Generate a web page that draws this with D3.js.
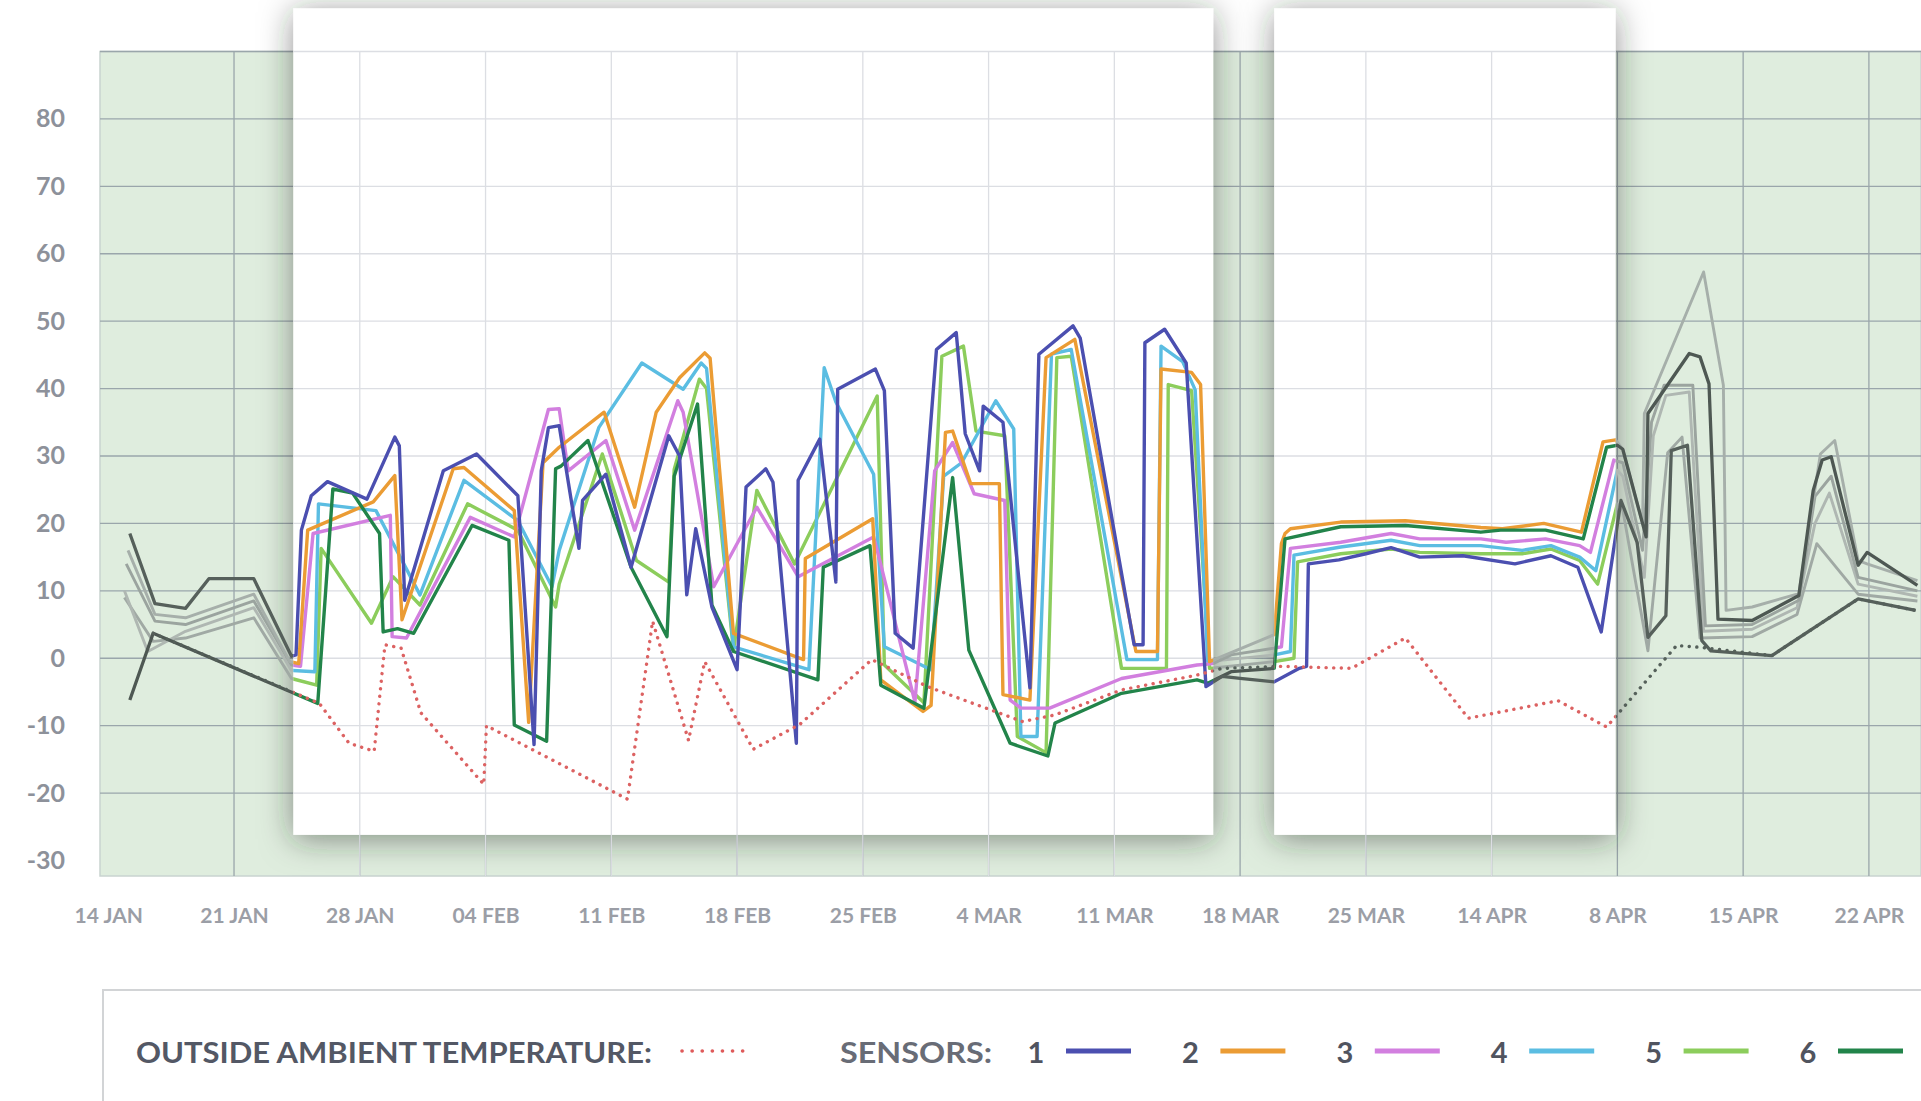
<!DOCTYPE html>
<html>
<head>
<meta charset="utf-8">
<script src="https://cdn.jsdelivr.net/npm/d3@7"></script>
<style>
  html, body { margin: 0; padding: 0; background: #fff; }
  svg { display: block; }
  text { font-family: Lato, "Open Sans", sans-serif; }
</style>
</head>
<body>
<div id="chart"></div>
<script>
// x values are days after 14 JAN, y values are degrees
var weekLabels = ["14 JAN", "21 JAN", "28 JAN", "04 FEB", "11 FEB", "18 FEB", "25 FEB", "4 MAR",
                  "11 MAR", "18 MAR", "25 MAR", "14 APR", "8 APR", "15 APR", "22 APR"];
var yTicks = [80, 70, 60, 50, 40, 30, 20, 10, 0, -10, -20, -30];
var highlightPeriods = [[10.3, 61.5], [64.9, 83.9]];
var highlightRange = [-26.2, 96.4];
var sensorNames = ["1", "2", "3", "4", "5", "6"];

var ambient = [[2.5,3.7],[11.75,-6.7],[13.4,-12.6],[14.8,-13.8],[15.4,2],[16.3,1.5],[17.4,-8.1],
  [20.9,-18.7],[21.05,-10],[28.9,-20.9],[30.3,5.5],[32.3,-12.2],[33.2,-0.5],[35.9,-13.5],
  [38.5,-9.8],[42.5,-0.2],[45.6,-4.2],[46.6,-5.2],[50.9,-9.4],[52.7,-8.4],[56.4,-4.7],
  [60.6,-2.5],[62,-1.5],[65.3,-1.2],[69.2,-1.5],[72.2,3],[75.7,-8.9],[80.7,-6.3],[83.4,-10.2],
  [87.3,1.9],[88.7,1.6],[92.6,0.4],[97.4,8.8],[100.6,7.1]];

var sensor1 = [[1.2,18.5],[2.6,8.1],[4.3,7.4],[5.6,11.8],[8.1,11.8],[10.2,0.3],[10.45,0.5],
  [10.75,19],[11.3,24.1],[12.2,26.2],[14.4,23.6],[15.95,32.8],[16.2,31.5],[16.5,8.6],[18.65,27.8],
  [20.5,30.3],[22.8,24.1],[23.7,-12.8],[24.1,27.8],[24.5,34.2],[25.1,34.5],[26.2,16.3],[26.4,23.4],
  [27.7,27.3],[29.1,13.5],[31.2,33],[31.8,30],[32.2,9.4],[32.7,19.2],[33.6,7.6],[35,-1.7],
  [35.5,25.4],[36.6,28.1],[37,26.1],[38.3,-12.6],[38.4,26.4],[39.6,32.5],[40.5,11.3],[40.6,39.9],
  [42.7,42.9],[43.2,39.7],[43.8,3.7],[44.8,1.5],[46.1,45.8],[47.2,48.3],[47.7,33.3],[48.5,27.8],
  [48.7,37.4],[49.8,35],[51.3,-4.4],[51.8,45.1],[53.7,49.3],[54.1,47.5],[57.1,2],[57.6,2],
  [57.7,46.8],[58.8,48.8],[60,43.8],[61.1,-4.2],[62,-2.7],[63,-3],[64.9,-3.5],[66.3,-1.5],
  [66.7,-1.2],[66.8,14],[68.5,14.6],[70,15.5],[71.4,16.4],[73,15],[75.4,15.2],[78.3,14],
  [80.3,15.2],[81.8,13.5],[83.1,3.9],[84.2,23.4],[85.1,17.2],[85.7,3.1],[86.7,6.3],[87,30.8],
  [87.9,31.6],[88.7,2.6],[89.2,1.1],[92.6,0.4],[97.4,8.8],[100.6,7.1]];

var sensor2 = [[1.1,16],[2.6,6.5],[4.3,6],[8.1,9.5],[10.1,-0.5],[10.6,-0.8],[11.1,19],[14.75,23.2],
  [15.95,27.1],[16.35,5.7],[19.2,28.1],[19.8,28.3],[22.6,21.9],[23.4,-9.5],[24.2,29],[25.1,31.3],
  [27.6,36.5],[29.3,22.4],[30.5,36.5],[31.8,41.6],[33.2,45.3],[33.5,44.5],[34.8,3.7],[38.7,-0.2],
  [38.8,14.8],[42.55,20.7],[43,-3.2],[45.35,-7.9],[45.8,-7],[46.6,33.5],[47,33.7],[48,25.9],
  [49.6,25.9],[49.8,-5.4],[51.3,-6.2],[52.2,44.6],[53.8,47.3],[57.2,1],[58.4,1],[58.6,42.9],
  [60.3,42.4],[60.8,40.6],[61.3,-0.5],[64.9,3.5],[65.3,17],[65.5,18.5],[65.8,19.2],[68.6,20.2],
  [72.2,20.4],[76.4,19.4],[77.6,19.2],[79.9,20],[82,18.7],[83.2,32.1],[83.9,32.4],[84.3,31],
  [85.4,20],[85.5,36.3],[88.8,57.3],[89.9,40.5],[90.05,7.1],[91.5,7.6],[94.1,9.6],[95.3,30.3],
  [96.1,32.3],[97.4,14.5],[97.9,14],[100.7,11.5]];

var sensor3 = [[1.0,14],[2.6,5.5],[4.3,5],[8.1,8.5],[10.2,-1],[10.7,-1.2],[11.4,18.5],[15.7,21.2],
  [15.8,3.2],[16.6,3.0],[20.15,20.9],[22.6,18],[24.5,36.9],[25.1,37],[25.6,27.8],[27.7,32.3],
  [29.3,19],[31.7,38.2],[32,36.5],[33.7,10.6],[36.1,22.4],[38.4,12.1],[42.6,18],[42.9,15],
  [44.9,-6.5],[46,27.8],[47,32],[48.2,24.4],[49.9,23.4],[50.2,-6.2],[50.8,-7.4],[52.4,-7.4],
  [56.4,-3],[60.6,-1],[61.5,-0.8],[62.5,0.5],[64.9,1.5],[65.3,1.7],[65.8,16.3],[68.6,17.2],
  [71.4,18.5],[73,17.7],[76.4,17.7],[77.8,17.2],[80,17.7],[81.9,16.7],[82.5,15.7],[83.8,29.4],
  [84.3,29],[85.4,16],[85.9,35],[86.6,40.5],[88.2,40.5],[88.9,4.8],[91.5,5],[94.1,8.6],[95,24],
  [95.9,27],[97.4,12],[100.7,10]];

var sensor4 = [[0.9,10],[2.2,1],[4.3,4],[8.1,7.5],[10.2,-1.8],[11.5,-2],[11.7,22.9],[14.9,21.9],
  [17.35,9.4],[19.8,26.4],[22.8,20.4],[24.7,10.6],[25.1,16],[27.3,34.2],[29.7,43.8],[32,39.9],
  [33,43.8],[33.3,43],[34.8,1.7],[39,-1.7],[39.85,43.1],[40.5,38],[42.6,27.3],[43.2,1.7],
  [45.8,-1.7],[46.5,27],[47.5,29],[49.4,38.2],[50.4,34],[50.8,-11.6],[51.7,-11.6],[52.5,45.1],
  [53.6,45.8],[56.7,-0.2],[58.4,-0.2],[58.6,46.3],[59.8,44],[60.5,39.8],[61.2,-0.5],[64.9,0.5],
  [65.8,1],[66,15.3],[68.6,16.5],[71.4,17.5],[73,16.7],[76.4,16.7],[78.7,16],[80.3,16.7],
  [81.9,15],[82.8,13],[84,27.9],[84.3,27],[85.5,12],[86,33],[86.7,39],[88,39.5],[88.8,4],
  [91.5,4.3],[94,7.5],[95,20],[95.8,24.5],[97.4,11],[100.7,9.2]];

var sensor5 = [[0.9,9],[2.5,2.5],[4.3,3],[8.1,6],[10.2,-3],[11.6,-4],[11.85,16.3],[14.65,5.2],
  [15.85,12.1],[17.35,7.9],[20,22.9],[22.8,19],[24.9,7.6],[25.1,11],[27.5,30.3],[29.4,14.5],
  [31.2,11.3],[31.5,28],[32.9,41.4],[33.3,40],[34.8,1.2],[36.1,24.9],[38.2,14],[42.8,38.9],
  [43.2,-1],[45.4,-6.6],[46.4,44.8],[47.6,46.3],[48.3,33.7],[49.9,33],[50.6,-11.6],[52.2,-14],
  [52.8,44.6],[53.6,44.8],[56.4,-1.5],[58.9,-1.5],[59,40.6],[60.3,39.7],[61.3,-1.5],[64.9,-0.5],
  [66,0],[66.2,14.3],[68.6,15.5],[71.4,16.2],[73,15.7],[76.4,15.5],[78.7,15.5],[80.3,16.2],
  [81.9,14.5],[82.9,11],[84,22.9],[84.3,22],[85.7,1.1],[86.8,30.5],[87.6,32.8],[88.6,3],
  [91.5,3.2],[94,6.5],[95.1,17],[97.4,9.5],[100.7,8.5]];

var sensor6 = [[1.2,-6.2],[2.5,3.7],[11.66,-6.7],[12.5,25.1],[13.6,24.5],[15.1,18.5],[15.3,3.9],
  [16.1,4.4],[17,3.7],[20.25,19.7],[22.3,17.5],[22.6,-9.9],[24.4,-12.3],[24.9,28.1],[25.2,28.5],
  [26.7,32.3],[29.1,13.5],[31.1,3.2],[31.5,27],[32.8,37.7],[33.6,7.9],[34.8,1],[39.5,-3.2],
  [39.8,13.5],[42.4,16.7],[43,-4],[45.4,-7.4],[47,26.8],[47.9,1.2],[50.2,-12.6],[52.3,-14.5],
  [52.7,-9.6],[56.4,-5.2],[60.6,-3.2],[61.2,-3.7],[62.5,-2],[64.9,-1.5],[65.5,17.7],[68.6,19.5],
  [72.2,19.7],[76.4,18.7],[77.5,19],[80,19],[82.1,17.7],[83.4,31.3],[84,31.6],[84.3,31],
  [85.6,18],[85.7,36.3],[88,45.2],[88.6,44.7],[89.1,40.7],[89.6,5.8],[91.5,5.6],[94.1,9.3],
  [94.9,24.9],[95.4,29.4],[95.9,29.9],[97.4,13.8],[97.9,15.7],[100.7,10.8]];

var sensors = [sensor1, sensor2, sensor3, sensor4, sensor5, sensor6];

var sensorColors = ["#4b4fb0", "#eb9c34", "#d27fdf", "#5bbde2", "#8ccd5c", "#22844a"];
var sensorGreys  = ["#56605b", "#a6afaa", "#9ba49f", "#afb7b2", "#a0a9a4", "#4e5853"];

var width = 1921, height = 1101;

var svg = d3.select("#chart").append("svg")
    .attr("width", width)
    .attr("height", height);

var x = d3.scaleLinear().domain([-0.46, 100.9]).range([100, 1921]);
var y = d3.scaleLinear().domain([-32.3, 90]).range([876, 51.5]);

var line = d3.line()
    .x(function(d) { return x(d[0]); })
    .y(function(d) { return y(d[1]); });

var defs = svg.append("defs");

var shadow = defs.append("filter")
    .attr("id", "panel-shadow")
    .attr("x", "-30%").attr("y", "-30%")
    .attr("width", "160%").attr("height", "160%");
shadow.append("feDropShadow")
    .attr("dx", 0).attr("dy", 4)
    .attr("stdDeviation", 16)
    .attr("flood-color", "#1a271f")
    .attr("flood-opacity", 0.5);

// clip for the highlighted periods and for everything outside them
var inside = defs.append("clipPath").attr("id", "clip-in");
inside.selectAll("rect")
    .data(highlightPeriods)
    .enter().append("rect")
    .attr("x", function(d) { return x(d[0]); })
    .attr("width", function(d) { return x(d[1]) - x(d[0]); })
    .attr("y", 0)
    .attr("height", height);

var edges = [x.domain()[0] - 5];
highlightPeriods.forEach(function(p) { edges.push(p[0]); edges.push(p[1]); });
edges.push(x.domain()[1] + 5);
var gaps = [];
for (var i = 0; i < edges.length; i += 2) gaps.push([edges[i], edges[i + 1]]);

var outside = defs.append("clipPath").attr("id", "clip-out");
outside.selectAll("rect")
    .data(gaps)
    .enter().append("rect")
    .attr("x", function(d) { return x(d[0]); })
    .attr("width", function(d) { return x(d[1]) - x(d[0]); })
    .attr("y", 0)
    .attr("height", height);

// plot background
svg.append("rect")
    .attr("x", x.range()[0])
    .attr("y", y.range()[1])
    .attr("width", x.range()[1] - x.range()[0])
    .attr("height", y.range()[0] - y.range()[1])
    .attr("fill", "#dfedde")
    .attr("stroke", "#c9d3d0")
    .attr("stroke-width", 1.5);

var weekDays = d3.range(0, weekLabels.length).map(function(i) { return i * 7; });
var gridY = yTicks.filter(function(v) { return v > -30; }).concat([90]);

function drawGrid(g, color) {
    g.selectAll(".h")
        .data(gridY)
        .enter().append("line")
        .attr("x1", x.range()[0]).attr("x2", x.range()[1])
        .attr("y1", function(d) { return y(d); })
        .attr("y2", function(d) { return y(d); })
        .attr("stroke", color)
        .attr("stroke-width", 1.3);
    g.selectAll(".v")
        .data(weekDays.slice(1))
        .enter().append("line")
        .attr("y1", y.range()[1]).attr("y2", y.range()[0])
        .attr("x1", function(d) { return x(d); })
        .attr("x2", function(d) { return x(d); })
        .attr("stroke", color)
        .attr("stroke-width", 1.3);
}

drawGrid(svg.append("g"), "#9aa6ab");

// white panels over the highlighted periods
svg.append("g")
    .selectAll("rect")
    .data(highlightPeriods)
    .enter().append("rect")
    .attr("x", function(d) { return x(d[0]); })
    .attr("width", function(d) { return x(d[1]) - x(d[0]); })
    .attr("y", y(highlightRange[1]))
    .attr("height", y(highlightRange[0]) - y(highlightRange[1]))
    .attr("fill", "#ffffff")
    .attr("filter", "url(#panel-shadow)");

drawGrid(svg.append("g").attr("clip-path", "url(#clip-in)"), "#dcdee3");

// grey copies outside the highlighted periods
var greyG = svg.append("g").attr("clip-path", "url(#clip-out)");
var colorG = svg.append("g").attr("clip-path", "url(#clip-in)");

var order = [4, 3, 2, 1, 5, 0];
order.forEach(function(k) {
    greyG.append("path")
        .datum(sensors[k])
        .attr("d", line)
        .attr("fill", "none")
        .attr("stroke", sensorGreys[k])
        .attr("stroke-width", (k === 0 || k === 5) ? 3.3 : 2.9)
        .attr("stroke-linejoin", "round");
    colorG.append("path")
        .datum(sensors[k])
        .attr("d", line)
        .attr("fill", "none")
        .attr("stroke", sensorColors[k])
        .attr("stroke-width", 3.4)
        .attr("stroke-linejoin", "round");
});

greyG.append("path")
    .datum(ambient)
    .attr("d", line)
    .attr("fill", "none")
    .attr("stroke", "#55605a")
    .attr("stroke-width", 3.4)
    .attr("stroke-linecap", "round")
    .attr("stroke-dasharray", "0.1 7.5");
colorG.append("path")
    .datum(ambient)
    .attr("d", line)
    .attr("fill", "none")
    .attr("stroke", "#dc6262")
    .attr("stroke-width", 3.4)
    .attr("stroke-linecap", "round")
    .attr("stroke-dasharray", "0.1 7.5");

// axes
var yAxis = svg.append("g")
    .attr("transform", "translate(" + x.range()[0] + ",0)")
    .call(d3.axisLeft(y).tickValues(yTicks).tickSize(0).tickPadding(35)
        .tickFormat(function(d) { return String(d); }));
yAxis.select(".domain").remove();
yAxis.selectAll("text")
    .attr("font-size", 25)
    .attr("font-weight", 700)
    .attr("fill", "#8d919a")
    .style("font-family", "Lato, sans-serif");

var xAxis = svg.append("g")
    .attr("transform", "translate(0," + y.range()[0] + ")")
    .call(d3.axisBottom(x).tickValues(weekDays).tickSize(0).tickPadding(32)
        .tickFormat(function(d, i) { return weekLabels[i]; }));
xAxis.select(".domain").remove();
xAxis.selectAll("text")
    .attr("font-size", 21)
    .attr("font-weight", 700)
    .attr("fill", "#9b9ea6")
    .style("font-family", "Lato, sans-serif");

// legend
var legend = svg.append("g");
legend.append("rect")
    .attr("x", 103).attr("y", 990)
    .attr("width", 1900).attr("height", 200)
    .attr("fill", "#ffffff")
    .attr("stroke", "#d2d4d6")
    .attr("stroke-width", 2);

legend.append("text")
    .attr("x", 136).attr("y", 1063)
    .attr("font-size", 28).attr("font-weight", 700)
    .attr("fill", "#535865")
    .attr("textLength", 516).attr("lengthAdjust", "spacingAndGlyphs")
    .text("OUTSIDE AMBIENT TEMPERATURE:");

legend.append("line")
    .attr("x1", 682).attr("x2", 752)
    .attr("y1", 1051).attr("y2", 1051)
    .attr("stroke", "#df5a5a")
    .attr("stroke-width", 3.6)
    .attr("stroke-linecap", "round")
    .attr("stroke-dasharray", "0.1 10");

legend.append("text")
    .attr("x", 840).attr("y", 1063)
    .attr("font-size", 28).attr("font-weight", 700)
    .attr("fill", "#686c76")
    .attr("textLength", 152).attr("lengthAdjust", "spacingAndGlyphs")
    .text("SENSORS:");

var item = legend.selectAll(".item")
    .data(sensorNames)
    .enter().append("g")
    .attr("transform", function(d, i) { return "translate(" + (1036 + i * 154.4) + ",0)"; });
item.append("text")
    .attr("x", 0).attr("y", 1063)
    .attr("text-anchor", "middle")
    .attr("font-size", 29).attr("font-weight", 700)
    .attr("fill", "#50545f")
    .text(function(d) { return d; });
item.append("line")
    .attr("x1", 30).attr("x2", 95)
    .attr("y1", 1051).attr("y2", 1051)
    .attr("stroke", function(d, i) { return sensorColors[i]; })
    .attr("stroke-width", 5);
</script>
</body>
</html>
